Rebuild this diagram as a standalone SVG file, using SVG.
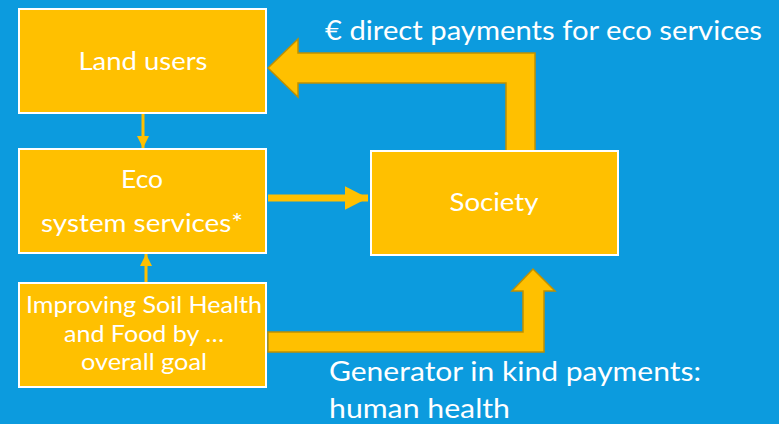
<svg xmlns="http://www.w3.org/2000/svg" width="779" height="424" viewBox="0 0 779 424">
<style>
.box{fill:#FFC000;stroke:#FFFFFF;stroke-width:2}
.t{fill:#FFFFFF;font-family:Lato,"Liberation Sans","DejaVu Sans",sans-serif;font-weight:400}
.big{fill:#FFC000;stroke:#BF9000;stroke-width:1.5;stroke-linejoin:miter}
.ln{stroke:#FFC000;fill:none}
</style>
<defs>
<marker id="ah" viewBox="0 0 10 10" refX="10" refY="5" markerWidth="4" markerHeight="4" markerUnits="strokeWidth" orient="auto">
<path d="M0,0 L10,5 L0,10 z" fill="#FFC000"/>
</marker>
<marker id="ah2" viewBox="0 0 10 10" refX="10" refY="5" markerWidth="3.3" markerHeight="3.4" markerUnits="strokeWidth" orient="auto" preserveAspectRatio="none">
<path d="M0,0 L10,5 L0,10 z" fill="#FFC000"/>
</marker>
</defs>
<rect x="0" y="0" width="779" height="424" fill="#0C9BDE"/>
<g id="connectors">
<path class="big" d="M535,151 L535,53 L298,53 L298,39 L268,68 L298,97 L298,83 L506,83 L506,151 Z"/>
<path class="big" d="M268,332 L523,332 L523,291 L512,291 L533,269 L555,291 L544,291 L544,352 L268,352 Z"/>
<line class="ln" x1="143" y1="114" x2="143" y2="148" stroke-width="3" marker-end="url(#ah)"/>
<line class="ln" x1="268" y1="198" x2="368" y2="198" stroke-width="7" marker-end="url(#ah2)"/>
<line class="ln" x1="146" y1="282" x2="146" y2="254" stroke-width="3" marker-end="url(#ah)"/>
</g>
<g id="land-users">
<rect class="box" x="19" y="9" width="247" height="104"/>
<text class="t" x="143" y="70" font-size="25" text-anchor="middle" textLength="129" lengthAdjust="spacingAndGlyphs">Land users</text>
</g>
<g id="eco-services">
<rect class="box" x="19" y="149" width="247" height="104"/>
<text class="t" x="142" y="188" font-size="25" text-anchor="middle" textLength="42" lengthAdjust="spacingAndGlyphs">Eco</text>
<text class="t" x="142" y="232" font-size="25" text-anchor="middle" textLength="202" lengthAdjust="spacingAndGlyphs">system services*</text>
</g>
<g id="society">
<rect class="box" x="371" y="151" width="247" height="104"/>
<text class="t" x="494" y="211" font-size="25" text-anchor="middle" textLength="89" lengthAdjust="spacingAndGlyphs">Society</text>
</g>
<g id="goal">
<rect class="box" x="19" y="283" width="247" height="104"/>
<text class="t" x="144" y="313" font-size="24" text-anchor="middle" textLength="236" lengthAdjust="spacingAndGlyphs">Improving Soil Health</text>
<text class="t" x="144" y="342" font-size="24" text-anchor="middle" textLength="160" lengthAdjust="spacingAndGlyphs">and Food by …</text>
<text class="t" x="144" y="370" font-size="24" text-anchor="middle" textLength="126" lengthAdjust="spacingAndGlyphs">overall goal</text>
</g>
<g id="labels">
<text class="t" x="325" y="40" font-size="27" textLength="437" lengthAdjust="spacingAndGlyphs">€ direct payments for eco services</text>
<text class="t" x="329" y="381" font-size="27" textLength="372" lengthAdjust="spacingAndGlyphs">Generator in kind payments:</text>
<text class="t" x="329" y="418" font-size="27" textLength="181" lengthAdjust="spacingAndGlyphs">human health</text>
</g>
</svg>
